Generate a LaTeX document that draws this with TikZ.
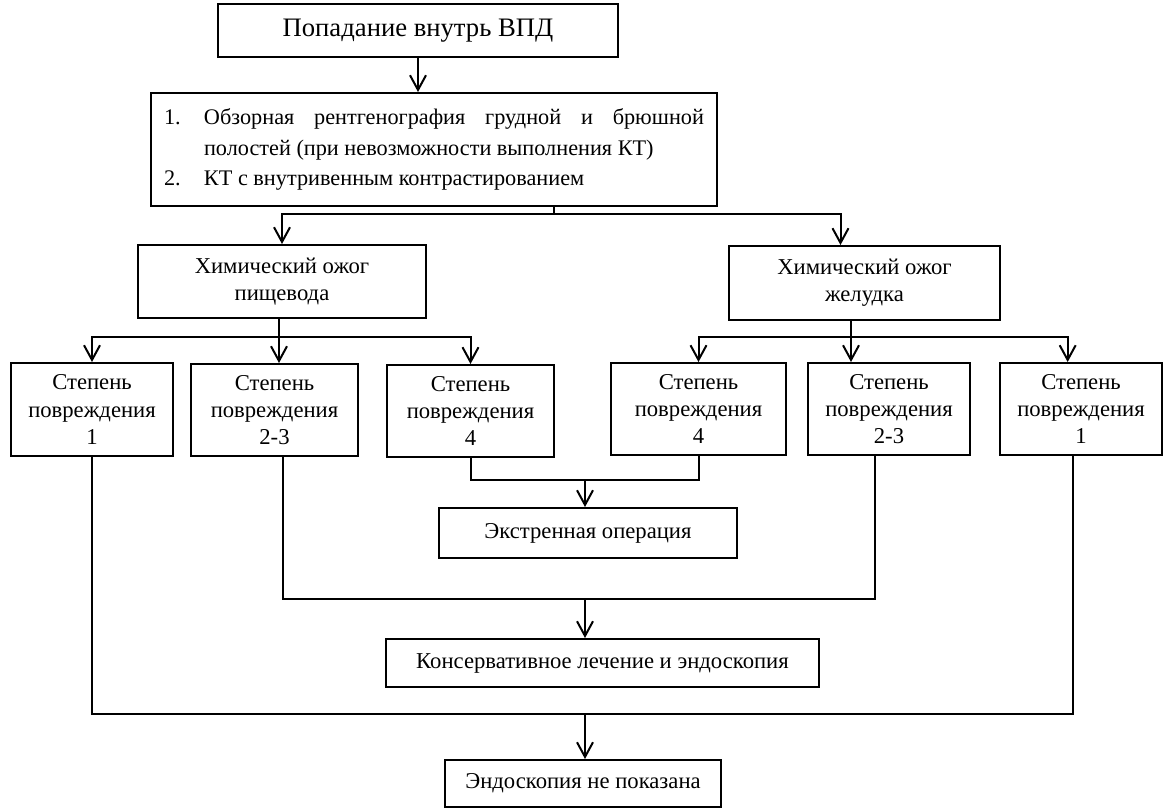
\documentclass[tikz,border=0pt]{standalone}
\usepackage{fontspec}
\setmainfont{Liberation Serif}
\usetikzlibrary{arrows.meta}

\begin{document}
\begin{tikzpicture}[x=0.75pt,y=-0.75pt,>={Straight Barb[length=11pt,width=12pt]},line width=1.5pt,
    box/.style={draw, align=center, inner sep=0pt, font=\fontsize{17}{20.5}\selectfont},
    size/.style 2 args={minimum width=#1*0.75pt, minimum height=#2*0.75pt}]
    \useasboundingbox (0,0) rectangle (1167,809);

    \node[box, size={400}{53}, font=\fontsize{20}{23}\selectfont](top) at (418,30.5) {Попадание внутрь ВПД};
    \node[box, size={566}{113}, text width=540*0.75pt, align=justify, font=\fontsize{16.7}{23}\selectfont](survey) at (434,149.5)
        {\hangindent=30pt\hangafter=1\makebox[30pt][l]{1.}Обзорная рентгенография грудной и брюшной полостей (при невозможности выполнения КТ)\par
         \makebox[30pt][l]{2.}КТ с внутривенным контрастированием};
    \node[box, size={288}{73}](esoph) at (282,281.5) {Химический ожог\\пищевода};
    \node[box, size={271}{74}](stom) at (864.5,283) {Химический ожог\\желудка};

    \node[box, size={162}{93}](e1) at (92,409.5) {Степень\\повреждения\\1};
    \node[box, size={167}{92}](e23) at (274.5,410) {Степень\\повреждения\\2-3};
    \node[box, size={167}{92}](e4) at (470.5,411) {Степень\\повреждения\\4};
    \node[box, size={175}{92}](s4) at (698.5,409) {Степень\\повреждения\\4};
    \node[box, size={162}{92}](s23) at (889,409) {Степень\\повреждения\\2-3};
    \node[box, size={162}{92}](s1) at (1081,409) {Степень\\повреждения\\1};

    \node[box, size={298}{50}](urgent) at (588,533) {Экстренная операция};
    \node[box, size={433}{48}](conserv) at (602.5,663) {Консервативное лечение и эндоскопия};
    \node[box, size={276}{47}](noendo) at (583,783.5) {Эндоскопия не показана};

    \coordinate (f1) at (554,214);
    \coordinate (f2) at (279,337);
    \coordinate (f3) at (851,337);
    \coordinate (j1) at (585,480);
    \coordinate (j2) at (585,599);
    \coordinate (j3) at (585,714);

    \draw[->] (top) -- (top |- survey.north);
    \draw (survey.south -| f1) -- (f1);
    \draw (esoph.south -| f2) -- (f2);
    \draw (stom.south -| f3) -- (f3);
    \foreach \k/\l/\s in {f1/esoph/0, f1/stom/-18, f2/e1/0, f2/e4/0, f3/s4/0, f3/s1/-10}{
        \draw[->](\k) -| ([xshift=\s pt]\l.north);
    }
    \foreach \k/\l in {f2/e23, f3/s23}{\draw[->](\k) -- (\l.north -| \k);}

    \draw (e4) |- (j1) -| (s4);
    \draw ([xshift=6pt]e23.south) |- (j2) -| ([xshift=-10.5pt]s23.south);
    \draw (e1) |- (j3) -| ([xshift=-6pt]s1.south);
    \foreach \k/\l in {j1/urgent, j2/conserv, j3/noendo}{\draw[->](\k) -- (\k |- \l.north);}
\end{tikzpicture}
\end{document}
